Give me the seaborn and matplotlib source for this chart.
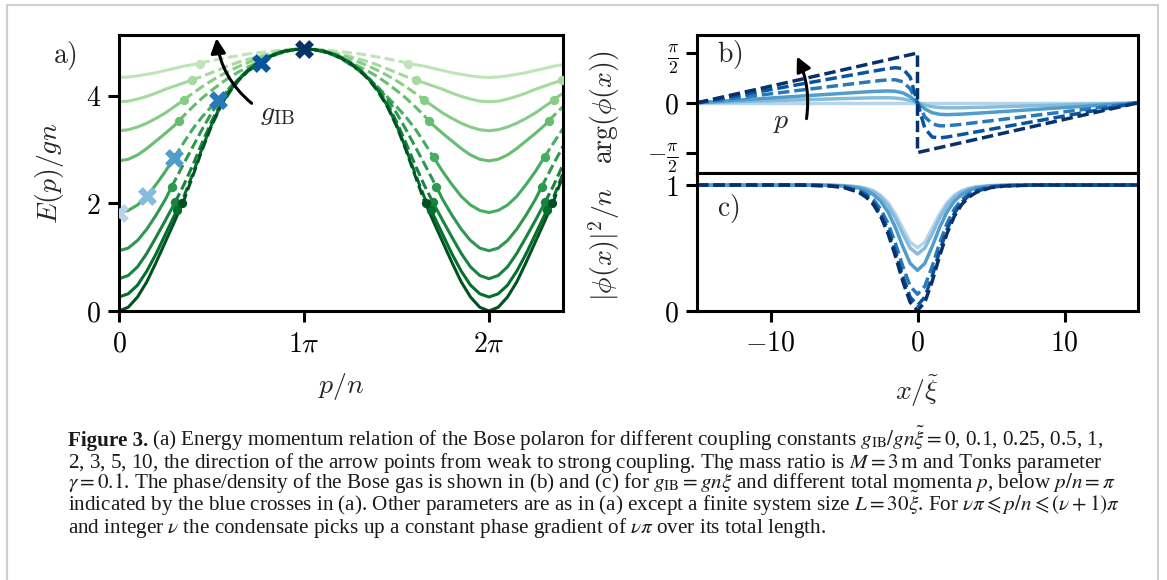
import numpy as np
import matplotlib
matplotlib.use("Agg")
import matplotlib.pyplot as plt
import seaborn as sns
from matplotlib.patches import Rectangle

# ---------------- data: panel a (energy-momentum relation) ----------------
G_IB = [0, 0.1, 0.25, 0.5, 1, 2, 3, 5, 10]
P_HALF = [0, .05, .1, .15, .2, .25, .3, .35, .4, .45, .5, .55, .6, .65, .7, .75, .8, .85, .9, .95, 1.0]  # p/(n pi)
E_G0   = [0.00, 0.07, 0.26, 0.54, 0.90, 1.28, 1.66, 2.05, 2.52, 3.00, 3.44, 3.80, 4.08, 4.30, 4.47, 4.60, 4.70, 4.78, 4.83, 4.86, 4.87]
E_G01  = [0.26, 0.32, 0.48, 0.74, 1.06, 1.42, 1.78, 2.12, 2.56, 3.03, 3.46, 3.82, 4.10, 4.31, 4.48, 4.61, 4.71, 4.78, 4.83, 4.86, 4.87]
E_G025 = [0.60, 0.66, 0.82, 1.07, 1.37, 1.68, 2.00, 2.34, 2.72, 3.13, 3.52, 3.86, 4.12, 4.33, 4.49, 4.62, 4.72, 4.79, 4.84, 4.86, 4.87]
E_G05  = [1.12, 1.17, 1.31, 1.52, 1.78, 2.07, 2.41, 2.74, 3.06, 3.38, 3.68, 3.95, 4.15, 4.32, 4.47, 4.59, 4.70, 4.78, 4.83, 4.86, 4.87]
E_G1   = [1.83, 1.87, 1.97, 2.13, 2.35, 2.59, 2.86, 3.13, 3.39, 3.61, 3.80, 3.98, 4.16, 4.32, 4.46, 4.58, 4.69, 4.77, 4.83, 4.86, 4.87]
E_G2   = [2.79, 2.82, 2.90, 3.02, 3.16, 3.30, 3.45, 3.63, 3.80, 3.96, 4.10, 4.23, 4.35, 4.45, 4.54, 4.62, 4.70, 4.77, 4.82, 4.86, 4.87]
E_G3   = [3.35, 3.37, 3.42, 3.49, 3.58, 3.68, 3.80, 3.92, 4.05, 4.17, 4.28, 4.38, 4.47, 4.55, 4.62, 4.69, 4.75, 4.80, 4.84, 4.86, 4.87]
E_G5   = [3.89, 3.90, 3.94, 3.99, 4.05, 4.12, 4.18, 4.24, 4.30, 4.36, 4.43, 4.50, 4.57, 4.63, 4.68, 4.73, 4.77, 4.81, 4.84, 4.86, 4.87]
E_G10  = [4.34, 4.35, 4.37, 4.40, 4.43, 4.47, 4.51, 4.55, 4.58, 4.62, 4.65, 4.69, 4.72, 4.75, 4.78, 4.80, 4.82, 4.84, 4.86, 4.87, 4.87]
E_CURVES = [E_G0, E_G01, E_G025, E_G05, E_G1, E_G2, E_G3, E_G5, E_G10]
MARK_P = [0.343, 0.316, 0.303, 0.285, 0.30, 0.325, 0.351, 0.393, 0.437]   # solid/dashed transition
MARK_E = [2.00, 1.88, 2.02, 2.31, 2.86, 3.54, 3.93, 4.29, 4.60]
CROSS_P = [0.0, 0.15, 0.297, 0.537, 0.767, 1.0]
CROSS_E = [1.83, 2.13, 2.84, 3.93, 4.61, 4.87]

# ---------------- data: panel b (phase), left half x <= 0 ----------------
P_LABELS = ["0", "0.15pi", "0.3pi", "0.54pi", "0.77pi", "pi"]
X_HALF_B = [-15, -12, -9, -6, -4, -3, -2, -1.5, -1, -0.5, 0]
PH_P0   = [0, 0, 0, 0, 0, 0, 0, 0, 0, 0, 0]
PH_P015 = [0, 0.04, 0.08, 0.12, 0.146, 0.157, 0.159, 0.150, 0.123, 0.072, 0]
PH_P03  = [0, 0.09, 0.18, 0.27, 0.330, 0.358, 0.374, 0.362, 0.313, 0.193, 0]
PH_P054 = [0, 0.17, 0.34, 0.51, 0.623, 0.679, 0.726, 0.726, 0.664, 0.443, 0]
PH_P077 = [0, 0.25, 0.50, 0.75, 0.917, 1.000, 1.080, 1.108, 1.080, 0.810, 0]
PH_P1   = [0, 0.314, 0.628, 0.942, 1.152, 1.257, 1.361, 1.414, 1.466, 1.518, 1.571]
PHASES = [PH_P0, PH_P015, PH_P03, PH_P054, PH_P077, PH_P1]

# ---------------- data: panel c (density), left half x <= 0 ----------------
X_HALF_C = [-15, -8, -6, -5, -4, -3.5, -3, -2.5, -2, -1.5, -1, -0.5, 0]
DEN_P0   = [1, 1, 0.999, 0.996, 0.987, 0.975, 0.955, 0.919, 0.860, 0.769, 0.654, 0.546, 0.50]
DEN_P015 = [1, 1, 0.998, 0.995, 0.983, 0.969, 0.945, 0.903, 0.835, 0.736, 0.611, 0.498, 0.45]
DEN_P03  = [1, 1, 0.998, 0.992, 0.976, 0.957, 0.924, 0.870, 0.784, 0.660, 0.510, 0.376, 0.32]
DEN_P054 = [1, 1, 0.996, 0.987, 0.960, 0.931, 0.884, 0.807, 0.693, 0.535, 0.352, 0.194, 0.13]
DEN_P077 = [1, 1, 0.994, 0.983, 0.950, 0.916, 0.861, 0.773, 0.644, 0.471, 0.274, 0.107, 0.04]
DEN_P1   = [1, 1, 0.993, 0.980, 0.942, 0.904, 0.844, 0.750, 0.612, 0.433, 0.233, 0.066, 0.00]
DENSITIES = [DEN_P0, DEN_P015, DEN_P03, DEN_P054, DEN_P077, DEN_P1]

CAPTION = [
    r"(a) Energy momentum relation of the Bose polaron for different coupling constants $g_{\mathrm{IB}}/gn\tilde{\xi}=0$, 0.1, 0.25, 0.5, 1,",
    r"2, 3, 5, 10, the direction of the arrow points from weak to strong coupling. The mass ratio is $M=3\,\mathrm{m}$ and Tonks parameter",
    r"$\gamma=0.1$. The phase/density of the Bose gas is shown in (b) and (c) for $g_{\mathrm{IB}}=gn\tilde{\xi}$ and different total momenta $p$, below $p/n=\pi$",
    r"indicated by the blue crosses in (a). Other parameters are as in (a) except a finite system size $L=30\tilde{\xi}$. For $\nu\pi\leqslant p/n\leqslant(\nu+1)\pi$",
    r"and integer $\nu$ the condensate picks up a constant phase gradient of $\nu\pi$ over its total length.",
]

# ---------------- style ----------------
sns.set_style("ticks")
plt.rcParams.update({
    "mathtext.fontset": "cm",
    "font.family": ["DejaVu Serif"],
    "axes.linewidth": 2.2,
    "axes.edgecolor": "black",
    "xtick.major.width": 2.2, "ytick.major.width": 2.2,
    "xtick.major.size": 8, "ytick.major.size": 8,
    "xtick.direction": "out", "ytick.direction": "out",
    "xtick.color": "black", "ytick.color": "black",
    "xtick.labelsize": 20, "ytick.labelsize": 20,
    "xtick.major.pad": 6, "ytick.major.pad": 5,
})

W, H = 1167, 580
fig = plt.figure(figsize=(W / 100, H / 100), dpi=100)
fig.patch.set_facecolor("white")
def fx(px): return px / W
def fy(py): return 1 - py / H

ax_a = fig.add_axes([fx(119), fy(311), fx(563) - fx(119), fy(35) - fy(311)])
ax_b = fig.add_axes([fx(697), fy(172.5), fx(1138) - fx(697), fy(35) - fy(172.5)])
ax_c = fig.add_axes([fx(697), fy(310.5), fx(1138) - fx(697), fy(172.5) - fy(310.5)])

greens = [plt.cm.Greens(v) for v in np.linspace(0.95, 0.28, 9)]
blues = [plt.cm.Blues(v) for v in np.linspace(0.3, 1.0, 6)]
DASH = (3.3, 1.4)


def draw_line(ax, x, y, color, dashed=False, lw=2.2, zorder=2):
    sns.lineplot(x=np.asarray(x, float), y=np.asarray(y, float), ax=ax, color=color,
                 sort=False, estimator=None, legend=False, linewidth=lw, zorder=zorder)
    line = ax.lines[-1]
    if dashed:
        line.set_dashes(DASH)
    return line


# ---------------- panel a ----------------
for i in reversed(range(len(G_IB))):
    pm, em = MARK_P[i], MARK_E[i]
    pts = sorted([(p, e) for p, e in zip(P_HALF, E_CURVES[i]) if abs(p - pm) > 1e-9] + [(pm, em)])
    mid = [(2 - p, e) for p, e in reversed(pts) if p < 1]
    right = [(2 + p, e) for p, e in pts if 0 < p <= 0.5]
    full = pts + mid + right
    P = np.array([q[0] for q in full])
    E = np.array([q[1] for q in full])
    eps = 1e-9
    segs = [
        (P <= pm + eps, False),
        ((P >= pm - eps) & (P <= 2 - pm + eps), True),
        ((P >= 2 - pm - eps) & (P <= 2 + pm + eps), False),
        (P >= 2 + pm - eps, True),
    ]
    for mask, dashed in segs:
        draw_line(ax_a, P[mask], E[mask], greens[i], dashed=dashed, lw=2.2, zorder=2 + (9 - i) * 0.01)
    sns.scatterplot(x=[pm, 2 - pm, 2 + pm], y=[em, em, em], ax=ax_a, color=greens[i],
                    s=45, linewidth=0, legend=False, zorder=3)

for j in range(len(CROSS_P)):
    sns.scatterplot(x=[CROSS_P[j]], y=[CROSS_E[j]], ax=ax_a, color=blues[j], marker="X",
                    s=185, linewidth=0, legend=False, zorder=5)

ax_a.set_xlim(0, 2.4)
ax_a.set_ylim(0, 5.13)
ax_a.set_xticks([0, 1, 2])
ax_a.set_xticklabels([r"$0$", r"$1\pi$", r"$2\pi$"])
ax_a.set_yticks([0, 2, 4])
ax_a.set_yticklabels([r"$0$", r"$2$", r"$4$"])
ax_a.set_xlabel(r"$p/n$", fontsize=20, labelpad=10)
ax_a.set_ylabel(r"$E(p)/gn$", fontsize=20, labelpad=14)
ax_a.annotate("", xy=(0.527, 5.07), xytext=(0.717, 3.86),
              arrowprops=dict(arrowstyle="-|>", color="black", lw=2.2, mutation_scale=22,
                              connectionstyle="arc3,rad=-0.2", shrinkA=0, shrinkB=0), zorder=6)
ax_a.text(0.856, 3.68, r"$g_{\mathrm{IB}}$", fontsize=20, ha="center", va="center")
fig.text(fx(65), fy(55), r"$\mathrm{a)}$", fontsize=20, ha="center", va="center")

# ---------------- panels b and c ----------------
for k in range(6):
    xb = X_HALF_B + [-x for x in reversed(X_HALF_B)]
    yb = PHASES[k] + [-y for y in reversed(PHASES[k])]
    draw_line(ax_b, xb, yb, blues[k], dashed=(k >= 3), lw=2.5, zorder=2 + k * 0.01)
    xc = X_HALF_C + [-x for x in reversed(X_HALF_C[:-1])]
    yc = DENSITIES[k] + list(reversed(DENSITIES[k][:-1]))
    draw_line(ax_c, xc, yc, blues[k], dashed=(k >= 3), lw=2.5, zorder=2 + k * 0.01)

ax_b.set_xlim(-15, 15)
ax_b.set_ylim(-2.2, 2.14)
ax_b.set_yticks([-np.pi / 2, 0, np.pi / 2])
ax_b.set_yticklabels([r"$-\frac{\pi}{2}$", r"$0$", r"$\frac{\pi}{2}$"])
ax_b.get_yticklabels()[0].set_fontsize(18)
ax_b.get_yticklabels()[2].set_fontsize(18)
ax_b.tick_params(axis="x", bottom=False, labelbottom=False)
ax_b.annotate("", xy=(-8.2, 1.46), xytext=(-7.55, -0.5),
              arrowprops=dict(arrowstyle="-|>", color="black", lw=2.2, mutation_scale=22,
                              connectionstyle="arc3,rad=0.15", shrinkA=0, shrinkB=0), zorder=6)
ax_b.text(-9.25, -0.6, r"$p$", fontsize=20, ha="center", va="center")
ax_b.text(0.045, 0.86, r"$\mathrm{b)}$", fontsize=20, ha="left", va="center", transform=ax_b.transAxes)

ax_c.set_xlim(-15, 15)
ax_c.set_ylim(0, 1.1)
ax_c.set_xticks([-10, 0, 10])
ax_c.set_xticklabels([r"$-10$", r"$0$", r"$10$"])
ax_c.set_yticks([0, 1])
ax_c.set_yticklabels([r"$0$", r"$1$"])
ax_c.set_xlabel(r"$x/\tilde{\xi}$", fontsize=20, labelpad=12)
ax_c.text(0.045, 0.74, r"$\mathrm{c)}$", fontsize=20, ha="left", va="center", transform=ax_c.transAxes)

fig.text(fx(604), fy(176), r"$|\phi(x)|^2/n\ \ \ \arg(\phi(x))$", fontsize=20,
         rotation=90, ha="center", va="center")

for ax in (ax_a, ax_b, ax_c):
    for s in ax.spines.values():
        s.set_visible(True)
        s.set_linewidth(2.2)

# ---------------- caption ----------------
cap = dict(family="Liberation Serif", size=15.2, color="#1a1a1a")
baselines = [446, 468, 489.5, 511, 532.5]
fig.canvas.draw()
rend = fig.canvas.get_renderer()
t0 = fig.text(fx(68), fy(baselines[0]), "Figure 3.", fontweight="bold", va="baseline", **cap)
bb = t0.get_window_extent(rend)
fig.text(bb.x1 / W + 4 / W, fy(baselines[0]), CAPTION[0], va="baseline", math_fontfamily="stix", **cap)
for line, b in zip(CAPTION[1:], baselines[1:]):
    fig.text(fx(68), fy(b), line, va="baseline", math_fontfamily="stix", **cap)

# border frame
fig.add_artist(Rectangle((fx(7), -0.1), fx(1158) - fx(7), fy(5) + 0.1, transform=fig.transFigure,
                         fill=False, edgecolor="#cfcfcf", linewidth=1.5, clip_on=False))

fig.savefig("out.png", dpi=100)
